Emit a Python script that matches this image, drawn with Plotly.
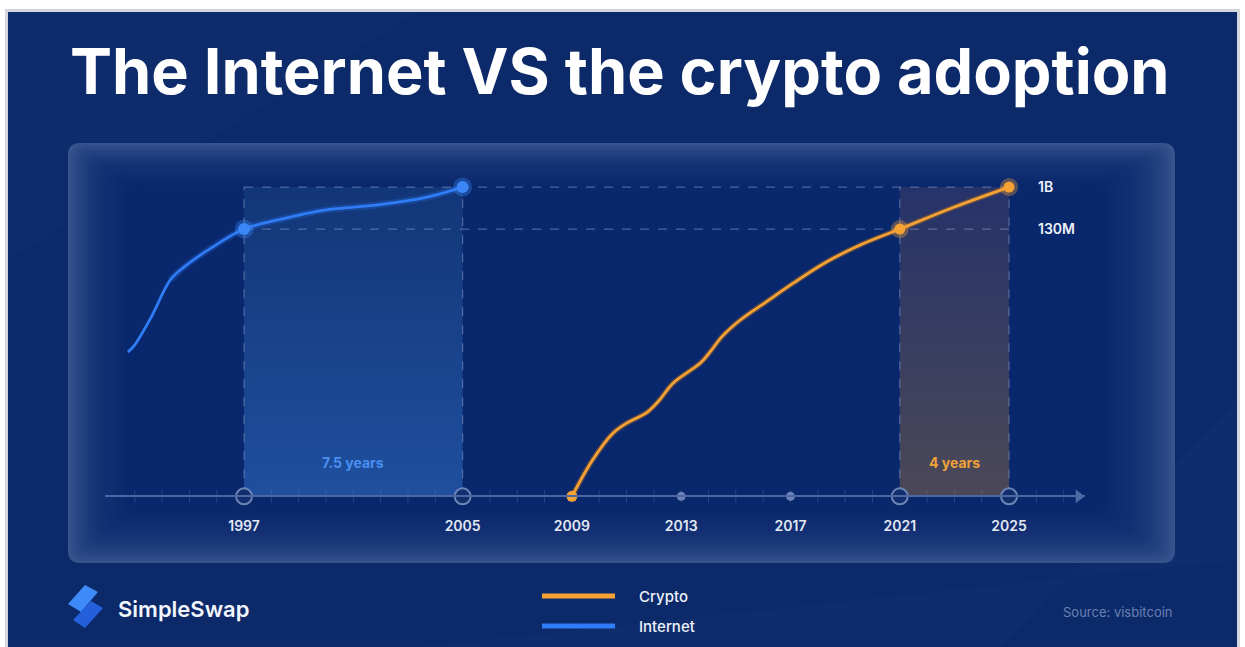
import math
import plotly.graph_objects as go

W, H = 1245, 647

# ---------------- data ----------------
TITLE = "The Internet VS the crypto adoption"
SERIES_NAMES = ["Crypto", "Internet"]

internet_years = [1992.75, 1993.0, 1993.6, 1994.3, 1994.8, 1995.8, 1997.0, 1998.2, 2000.0, 2001.9, 2003.7, 2005.0]
internet_users = [3.3e5, 4.7e5, 1.8e6, 1.1e7, 2.05e7, 5.2e7, 1.3e8, 2.0e8, 3.3e8, 4.2e8, 6.15e8, 1.0e9]

crypto_years = [2009.0, 2009.75, 2010.5, 2011.0, 2011.75, 2012.2, 2012.7, 2013.7, 2014.05, 2014.5,
                2015.15, 2016.1, 2017.1, 2018.3, 2019.55, 2021.0, 2023.0, 2025.0]
crypto_users = [300, 1.74e3, 6.45e3, 1.05e4, 1.78e4, 3.2e4, 7.3e4, 1.94e5, 3.3e5, 7.1e5,
                1.55e6, 3.75e6, 9.4e6, 2.6e7, 6.0e7, 1.3e8, 3.8e8, 1.0e9]

internet_marks_x = [1997, 2005]
internet_marks_y = [1.3e8, 1.0e9]
crypto_marks_x = [2009, 2021, 2025]
crypto_marks_y = [300, 1.3e8, 1.0e9]

year_ticks = [1997, 2005, 2009, 2013, 2017, 2021, 2025]
ring_years = [1997, 2005, 2021, 2025]
dot_years = [2013, 2017]
minor_years = [1993, 1994, 1995, 1996, 1997, 1998, 1999, 2000, 2001, 2002, 2003, 2004, 2005, 2006,
               2007, 2008, 2009, 2010, 2011, 2012, 2013, 2014, 2015, 2016, 2017, 2018, 2019, 2020,
               2021, 2022, 2023, 2024, 2025, 2026, 2027]

milestone_values = [1.3e8, 1.0e9]
milestone_labels = ["130M", "1B"]
BASE = 300  # value at the time axis

internet_span = [1997, 2005]
crypto_span = [2021, 2025]
span_labels = ["7.5 years", "4 years"]
span_label_value = 1580

SOURCE = "Source: visbitcoin"
BRAND = "SimpleSwap"

# ---------------- styles ----------------
NAVY = "#0c2a69"
ORANGE = "#f5a234"
BLUE = "#2f7cf6"
FONT = "Inter"

YMIN, YMAX = -0.70, 12.945
XMIN, XMAX = 1991.91, 2027.78


def px(x):
    return x / W


def py(y):
    return 1 - y / H


def rrect(x0, y0, x1, y1, r):
    """rounded rectangle path in paper coords from pixel box"""
    rx, ry = r / W, r / H
    X0, X1 = px(x0), px(x1)
    Y0, Y1 = py(y1), py(y0)  # bottom, top
    return (f"M {X0+rx},{Y0} L {X1-rx},{Y0} Q {X1},{Y0} {X1},{Y0+ry} "
            f"L {X1},{Y1-ry} Q {X1},{Y1} {X1-rx},{Y1} L {X0+rx},{Y1} "
            f"Q {X0},{Y1} {X0},{Y1-ry} L {X0},{Y0+ry} Q {X0},{Y0} {X0+rx},{Y0} Z")


fig = go.Figure()

# bands
fig.add_trace(go.Scatter(
    x=[internet_span[0], internet_span[1], internet_span[1], internet_span[0], internet_span[0]],
    y=[BASE, BASE, milestone_values[1], milestone_values[1], BASE],
    fill="toself", mode="lines", line=dict(width=0),
    fillgradient=dict(type="vertical", colorscale=[[0, "#1f4f9e"], [1, "#123678"]]),
    hoverinfo="skip", showlegend=False))
fig.add_trace(go.Scatter(
    x=[crypto_span[0], crypto_span[1], crypto_span[1], crypto_span[0], crypto_span[0]],
    y=[BASE, BASE, milestone_values[1], milestone_values[1], BASE],
    fill="toself", mode="lines", line=dict(width=0),
    fillgradient=dict(type="vertical", colorscale=[[0, "#4b4857"], [1, "#26336a"]]),
    hoverinfo="skip", showlegend=False))

# dashed guides
gx, gy = [], []
for v in milestone_values:
    gx += [internet_span[0], crypto_span[1], None]
    gy += [v, v, None]
for yr in internet_span + crypto_span:
    gx += [yr, yr, None]
    gy += [BASE, milestone_values[1], None]
fig.add_trace(go.Scatter(x=gx, y=gy, mode="lines",
                         line=dict(color="rgba(140,160,205,0.5)", width=1.2, dash="dash"),
                         hoverinfo="skip", showlegend=False))

# minor ticks on time axis
fig.add_trace(go.Scatter(x=minor_years, y=[BASE] * len(minor_years), mode="markers",
                         marker=dict(symbol="line-ns", size=9,
                                     line=dict(color="rgba(110,135,190,0.3)", width=1)),
                         hoverinfo="skip", showlegend=False, cliponaxis=False))

# arrow head
fig.add_trace(go.Scatter(x=[2027.55], y=[BASE], mode="markers",
                         marker=dict(symbol="triangle-right", size=12, color="#4f6aa5"),
                         hoverinfo="skip", showlegend=False, cliponaxis=False))

# year markers
fig.add_trace(go.Scatter(x=ring_years, y=[BASE] * len(ring_years), mode="markers",
                         marker=dict(size=16, color="#132e6c", line=dict(color="#6d84b7", width=2)),
                         hoverinfo="skip", showlegend=False, cliponaxis=False))
fig.add_trace(go.Scatter(x=dot_years, y=[BASE] * len(dot_years), mode="markers",
                         marker=dict(size=9, color="#6c83b8"),
                         hoverinfo="skip", showlegend=False, cliponaxis=False))

# internet curve
fig.add_trace(go.Scatter(x=internet_years[3:], y=internet_users[3:], mode="lines",
                         line=dict(color="rgba(47,124,246,0.22)", width=7, shape="spline", smoothing=1.0),
                         hoverinfo="skip", showlegend=False))
fig.add_trace(go.Scatter(x=internet_years, y=internet_users, mode="lines", name=SERIES_NAMES[1],
                         line=dict(color=BLUE, width=2.8, shape="spline", smoothing=1.0),
                         showlegend=False))

# crypto curve
fig.add_trace(go.Scatter(x=crypto_years, y=crypto_users, mode="lines",
                         line=dict(color="rgba(160,100,40,0.5)", width=5.5, shape="spline", smoothing=1.0),
                         hoverinfo="skip", showlegend=False))
fig.add_trace(go.Scatter(x=crypto_years, y=crypto_users, mode="lines", name=SERIES_NAMES[0],
                         line=dict(color=ORANGE, width=2.8, shape="spline", smoothing=1.0),
                         showlegend=False))

# milestone markers
fig.add_trace(go.Scatter(x=internet_marks_x, y=internet_marks_y, mode="markers",
                         marker=dict(size=19, color="rgba(58,134,246,0.35)"),
                         hoverinfo="skip", showlegend=False, cliponaxis=False))
fig.add_trace(go.Scatter(x=internet_marks_x, y=internet_marks_y, mode="markers",
                         marker=dict(size=12, color="#3b87f7"),
                         hoverinfo="skip", showlegend=False, cliponaxis=False))
fig.add_trace(go.Scatter(x=crypto_marks_x[1:], y=crypto_marks_y[1:], mode="markers",
                         marker=dict(size=18, color="rgba(242,162,58,0.35)"),
                         hoverinfo="skip", showlegend=False, cliponaxis=False))
fig.add_trace(go.Scatter(x=crypto_marks_x, y=crypto_marks_y, mode="markers",
                         marker=dict(size=11, color=ORANGE),
                         hoverinfo="skip", showlegend=False, cliponaxis=False))

# ---------------- background shapes ----------------
shapes = []
# white frame + navy card
shapes.append(dict(type="rect", xref="paper", yref="paper", x0=px(5), x1=px(1240), y0=0, y1=py(9),
                   fillcolor="rgba(60,70,100,0.22)", line=dict(width=0), layer="below"))
shapes.append(dict(type="rect", xref="paper", yref="paper", x0=px(8), x1=px(1237), y0=0, y1=py(12),
                   fillcolor=NAVY, line=dict(width=0), layer="below"))
# subtle diagonal sheens
shapes.append(dict(type="path", xref="paper", yref="paper",
                   path=f"M {px(420)},0 L {px(1000)},0 L {px(1237)},{py(400)} L {px(1237)},{py(560)} Z",
                   fillcolor="rgba(40,70,140,0.12)", line=dict(width=0), layer="below"))
shapes.append(dict(type="path", xref="paper", yref="paper",
                   path=f"M {px(8)},{py(12)} L {px(420)},{py(12)} L {px(8)},{py(260)} Z",
                   fillcolor="rgba(40,70,140,0.10)", line=dict(width=0), layer="below"))
# panel with soft inner gradient
shapes.append(dict(type="path", xref="paper", yref="paper", path=rrect(68, 143, 1175, 563, 12),
                   fillcolor="#36538d", line=dict(width=0), layer="below"))
N = 26
for i in range(1, N + 1):
    lx, ty, rx_, by = 68 + 2.8 * i, 143 + 2.0 * i, 1175 - 3.4 * i, 563 - 2.5 * i
    shapes.append(dict(type="path", xref="paper", yref="paper", path=rrect(lx, ty, rx_, by, 12),
                       fillcolor="rgba(13,42,104,0.10)", line=dict(width=0), layer="below"))

# legend samples
shapes.append(dict(type="line", xref="paper", yref="paper", x0=px(542), x1=px(615), y0=py(596), y1=py(596),
                   line=dict(color=ORANGE, width=5), layer="above"))
shapes.append(dict(type="line", xref="paper", yref="paper", x0=px(542), x1=px(615), y0=py(626), y1=py(626),
                   line=dict(color=BLUE, width=5), layer="above"))
# brand icon
shapes.append(dict(type="path", xref="paper", yref="paper",
                   path=f"M {px(68)},{py(604)} L {px(85)},{py(585)} L {px(98)},{py(592)} L {px(81)},{py(612)} Z",
                   fillcolor="#3d8af8", line=dict(width=0), layer="above"))
shapes.append(dict(type="path", xref="paper", yref="paper",
                   path=f"M {px(73)},{py(620)} L {px(91)},{py(601)} L {px(103)},{py(608)} L {px(85)},{py(628)} Z",
                   fillcolor="#2460dc", line=dict(width=0), layer="above"))

# ---------------- annotations ----------------
ann = []
ann.append(dict(text=TITLE, xref="paper", yref="paper", x=px(620), y=py(71), showarrow=False,
                xanchor="center", yanchor="middle",
                font=dict(family=FONT, size=63, color="white", weight=700)))
ann.append(dict(text=span_labels[0], x=sum(internet_span) / 2, y=math.log10(span_label_value),
                showarrow=False, font=dict(family=FONT, size=14, color="#4a8ff2", weight=700)))
ann.append(dict(text=span_labels[1], x=sum(crypto_span) / 2, y=math.log10(span_label_value),
                showarrow=False, font=dict(family=FONT, size=14, color="#f0a23a", weight=700)))
ann.append(dict(text=SERIES_NAMES[0], xref="paper", yref="paper", x=px(637), y=py(596), showarrow=False,
                xanchor="left", yanchor="middle", font=dict(family=FONT, size=15, color="#eef2fa", weight=500)))
ann.append(dict(text=SERIES_NAMES[1], xref="paper", yref="paper", x=px(637), y=py(626), showarrow=False,
                xanchor="left", yanchor="middle", font=dict(family=FONT, size=15, color="#eef2fa", weight=500)))
ann.append(dict(text=BRAND, xref="paper", yref="paper", x=px(116), y=py(609), showarrow=False,
                xanchor="left", yanchor="middle", font=dict(family=FONT, size=22, color="#f2f5fb", weight=600)))
ann.append(dict(text=SOURCE, xref="paper", yref="paper", x=px(1175), y=py(612), showarrow=False,
                xanchor="right", yanchor="middle", font=dict(family=FONT, size=13, color="#6a80b0", weight=400)))

fig.update_layout(
    width=W, height=H,
    margin=dict(l=0, r=0, t=0, b=0),
    paper_bgcolor="white",
    plot_bgcolor="rgba(0,0,0,0)",
    shapes=shapes,
    annotations=ann,
    showlegend=False,
    xaxis=dict(domain=[px(105), px(1085)], range=[XMIN, XMAX], anchor="free",
               position=(math.log10(BASE) - YMIN) / (YMAX - YMIN),
               showgrid=False, zeroline=False, showline=True, linecolor="#4d67a2", linewidth=2,
               tickvals=year_ticks, ticktext=[str(y) for y in year_ticks],
               ticks="outside", ticklen=17, tickcolor="rgba(0,0,0,0)",
               tickfont=dict(family=FONT, size=14, color="#e2e8f4", weight=600)),
    yaxis=dict(type="log", domain=[0, 1], range=[YMIN, YMAX], anchor="free", position=px(1037),
               side="right", showgrid=False, zeroline=False, showline=False, ticks="",
               tickvals=milestone_values, ticktext=milestone_labels,
               tickfont=dict(family=FONT, size=14, color="#eef2fa", weight=600)),
)

fig.write_html("out.html")
